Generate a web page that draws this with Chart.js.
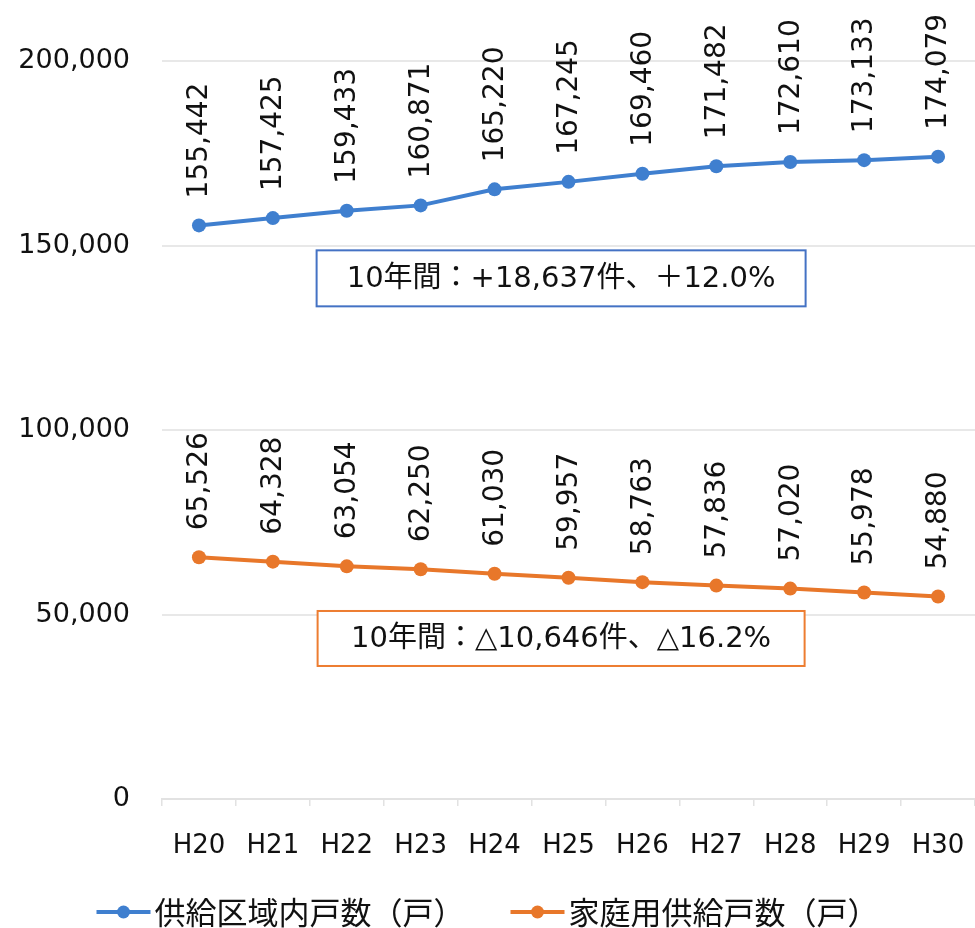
<!DOCTYPE html>
<html>
<head>
<meta charset="utf-8">
<script src="https://cdn.jsdelivr.net/npm/chart.js@4.4.1/dist/chart.umd.min.js"></script>
<style>
  html, body { margin: 0; padding: 0; background: #fff; }
  #wrap { width: 975px; height: 928px; position: relative; }
</style>
</head>
<body>
<div id="wrap"><canvas id="c"></canvas></div>
<script>
// 年度（平成）
const years = ['H20', 'H21', 'H22', 'H23', 'H24', 'H25', 'H26', 'H27', 'H28', 'H29', 'H30'];
// 供給区域内戸数（戸）
const supplyAreaHouseholds = [155442, 157425, 159433, 160871, 165220, 167245, 169460, 171482, 172610, 173133, 174079];
// 家庭用供給戸数（戸）
const residentialHouseholds = [65526, 64328, 63054, 62250, 61030, 59957, 58763, 57836, 57020, 55978, 54880];
// 縦軸目盛り
const yTicks = [0, 50000, 100000, 150000, 200000];
// 10年間の増減
const summaryTexts = ['10年間：+18,637件、＋12.0%', '10年間：△10,646件、△16.2%'];

const BLUE = '#3f7fcf';
const ORANGE = '#e8772a';
const NUM_FONT = '"DejaVu Sans", "Noto Sans CJK JP", sans-serif';
const fmt = v => v.toLocaleString('en-US');

// 各点の上に縦書き（90°回転）で値を表示
const valueLabels = {
  id: 'valueLabels',
  afterDatasetsDraw(chart) {
    const ctx = chart.ctx;
    ctx.save();
    ctx.font = '28px ' + NUM_FONT;
    ctx.fillStyle = '#111';
    ctx.textAlign = 'left';
    ctx.textBaseline = 'middle';
    chart.data.datasets.forEach((ds, i) => {
      chart.getDatasetMeta(i).data.forEach((pt, j) => {
        ctx.save();
        ctx.translate(pt.x, pt.y - 27);
        ctx.rotate(-Math.PI / 2);
        ctx.fillText(fmt(ds.data[j]), 0, 1);
        ctx.restore();
      });
    });
    ctx.restore();
  }
};

// 増減の注記枠
const summaryBoxes = {
  id: 'summaryBoxes',
  afterDraw(chart, args, opts) {
    const ctx = chart.ctx;
    const x = chart.scales.x, y = chart.scales.y;
    ctx.save();
    opts.boxes.forEach(b => {
      const cx = x.getPixelForValue(b.at);
      const cy = y.getPixelForValue(b.value);
      const left = cx - b.w / 2, top = cy - b.h / 2;
      ctx.fillStyle = '#fff';
      ctx.fillRect(left, top, b.w, b.h);
      ctx.strokeStyle = b.color;
      ctx.lineWidth = 2;
      ctx.strokeRect(left, top, b.w, b.h);
      ctx.fillStyle = '#111';
      ctx.font = '29px ' + NUM_FONT;
      ctx.textAlign = 'center';
      ctx.textBaseline = 'middle';
      ctx.fillText(b.text, cx, cy + 1);
    });
    ctx.restore();
  }
};

// 線＋丸マーカーの凡例
const lineLegend = {
  id: 'lineLegend',
  afterDraw(chart) {
    const ctx = chart.ctx;
    ctx.save();
    ctx.font = '31px "Noto Sans CJK JP", sans-serif';
    ctx.textBaseline = 'middle';
    const markerW = 54, gapText = 4, gapItem = 46;
    const items = chart.data.datasets.map(ds => ({
      label: ds.label, color: ds.borderColor, w: markerW + gapText + ctx.measureText(ds.label).width
    }));
    const total = items.reduce((s, it) => s + it.w, 0) + gapItem * (items.length - 1);
    let xPos = (chart.width - total) / 2;
    const yPos = 912;
    items.forEach(it => {
      ctx.strokeStyle = it.color;
      ctx.lineWidth = 4;
      ctx.beginPath();
      ctx.moveTo(xPos, yPos);
      ctx.lineTo(xPos + markerW, yPos);
      ctx.stroke();
      ctx.fillStyle = it.color;
      ctx.beginPath();
      ctx.arc(xPos + markerW / 2, yPos, 6.5, 0, Math.PI * 2);
      ctx.fill();
      ctx.fillStyle = '#111';
      ctx.fillText(it.label, xPos + markerW + gapText, yPos);
      xPos += it.w + gapItem;
    });
    ctx.restore();
  }
};

new Chart(document.getElementById('c'), {
  type: 'line',
  data: {
    labels: years,
    datasets: [
      {
        label: '供給区域内戸数（戸）',
        data: supplyAreaHouseholds,
        borderColor: BLUE,
        backgroundColor: BLUE,
        borderWidth: 4,
        pointRadius: 7,
        pointHoverRadius: 7,
        pointBorderWidth: 0,
        tension: 0
      },
      {
        label: '家庭用供給戸数（戸）',
        data: residentialHouseholds,
        borderColor: ORANGE,
        backgroundColor: ORANGE,
        borderWidth: 4,
        pointRadius: 7,
        pointHoverRadius: 7,
        pointBorderWidth: 0,
        tension: 0
      }
    ]
  },
  options: {
    responsive: true,
    maintainAspectRatio: false,
    animation: false,
    devicePixelRatio: 1,
    layout: { autoPadding: false, padding: { top: 61, right: 0, bottom: 69, left: 0 } },
    plugins: {
      legend: { display: false },
      tooltip: { enabled: false },
      summaryBoxes: {
        boxes: [
          { text: summaryTexts[0], color: '#4472c4', at: 4.9, value: 141100, w: 489, h: 56 },
          { text: summaryTexts[1], color: '#ed7d31', at: 4.9, value: 43500, w: 487, h: 55 }
        ]
      }
    },
    scales: {
      x: {
        offset: true,
        grid: { display: true, offset: true, drawOnChartArea: false, drawTicks: true, tickLength: 7, color: '#e2e2e2', lineWidth: 1.5 },
        border: { display: true, color: '#e2e2e2', width: 2 },
        ticks: { font: { family: NUM_FONT, size: 26 }, color: '#111', padding: 25, maxRotation: 0 },
        afterFit(s) { s.height = 60; s.paddingLeft = 0; s.paddingRight = 0; }
      },
      y: {
        min: 0,
        max: 200000,
        afterBuildTicks(s) { s.ticks = yTicks.map(v => ({ value: v })); },
        grid: { color: '#e8e8e8', lineWidth: 2, drawTicks: false },
        border: { display: false },
        ticks: { font: { family: NUM_FONT, size: 27 }, color: '#111', padding: 32, callback: v => fmt(v) },
        afterFit(s) { s.width = 162; }
      }
    }
  },
  plugins: [valueLabels, summaryBoxes, lineLegend]
});
</script>
</body>
</html>
